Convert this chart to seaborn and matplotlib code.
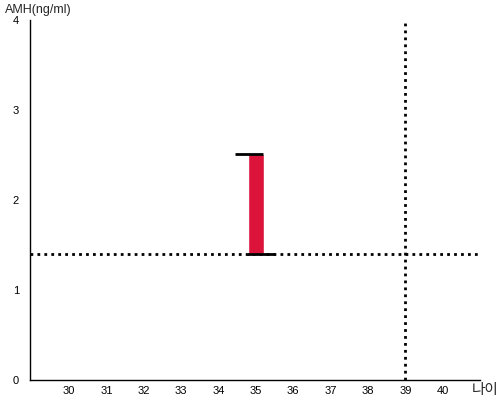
import matplotlib
matplotlib.use("Agg")
import matplotlib.pyplot as plt
import seaborn as sns

# data
ages = [35]
amh_low = [1.4]
amh_high = [2.51]
cap_top = (34.45, 35.2)
cap_bottom = (34.75, 35.52)
ref_age = 39
ref_amh = 1.4
x_ticks = list(range(30, 41))
y_ticks = [0, 1, 2, 3, 4]

sns.set_theme(style="white")
plt.rcParams['font.family'] = ['Liberation Sans', 'Noto Sans CJK KR', 'DejaVu Sans']

fig = plt.figure(figsize=(5, 4), dpi=100)
ax = fig.add_axes([0.06, 0.05, 0.9, 0.9])

heights = [h - l for h, l in zip(amh_high, amh_low)]
ax.bar(ages, heights, bottom=amh_low, width=0.45, color="#dc143c", zorder=2)
ax.hlines(amh_high, cap_top[0], cap_top[1], color="black", lw=2, zorder=3)
ax.hlines(amh_low, cap_bottom[0], cap_bottom[1], color="black", lw=2, zorder=3)

ax.axhline(ref_amh, color="black", ls=(0, (1, 1.5)), lw=2, zorder=1)
ax.axvline(ref_age, color="black", ls=(0, (1, 1.5)), lw=2, zorder=1)

ax.set_xlim(28.95, 41)
ax.set_ylim(0, 4)
ax.set_xticks(x_ticks)
ax.set_yticks(y_ticks)
ax.tick_params(axis="both", length=0, labelsize=8, colors="black")
ax.tick_params(axis="x", pad=4)
ax.tick_params(axis="y", pad=8)

sns.despine(ax=ax)
for s in ["left", "bottom"]:
    ax.spines[s].set_color("black")
    ax.spines[s].set_linewidth(1)

fig.text(0.01, 0.99, "AMH(ng/ml)", fontsize=9, va="top", ha="left")
fig.text(0.997, 0.008, "나이", fontsize=10.5, va="bottom", ha="right")

fig.savefig("out.png", dpi=100)
